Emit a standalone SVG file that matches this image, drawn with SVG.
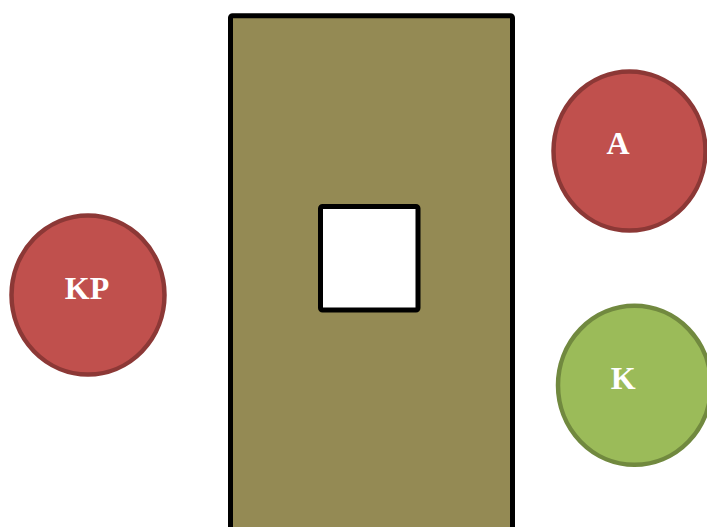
<svg xmlns="http://www.w3.org/2000/svg" width="707" height="527" viewBox="0 0 707 527">
<style>
.red{fill:#C0504D;stroke:#8C3836;stroke-width:4.5}
.green{fill:#9BBB59;stroke:#71893F;stroke-width:4.5}
.lbl{font-family:"Liberation Serif","Times New Roman",serif;font-weight:bold;font-size:32px;fill:#FFFFFF;text-anchor:middle}
.box{stroke:#000;stroke-width:5;stroke-linejoin:round}
</style>
<rect width="707" height="527" fill="#FFFFFF"/>
<g id="block">
<rect class="box" x="230.5" y="15.8" width="282" height="530" rx="2" fill="#948A54"/>
<rect class="box" x="320.5" y="206.5" width="97.5" height="103.5" rx="2" fill="#FFFFFF"/>
</g>
<g id="KP">
<ellipse class="red" cx="88" cy="295" rx="76.5" ry="79.5"/>
<text class="lbl" x="87" y="298.5">KP</text>
</g>
<g id="A">
<ellipse class="red" cx="629.5" cy="151" rx="76" ry="79.5"/>
<text class="lbl" x="618" y="153.5">A</text>
</g>
<g id="K">
<ellipse class="green" cx="634.5" cy="385.3" rx="76.5" ry="79.5"/>
<text class="lbl" x="623.3" y="388.5">K</text>
</g>
<g id="connectors"></g>
</svg>
